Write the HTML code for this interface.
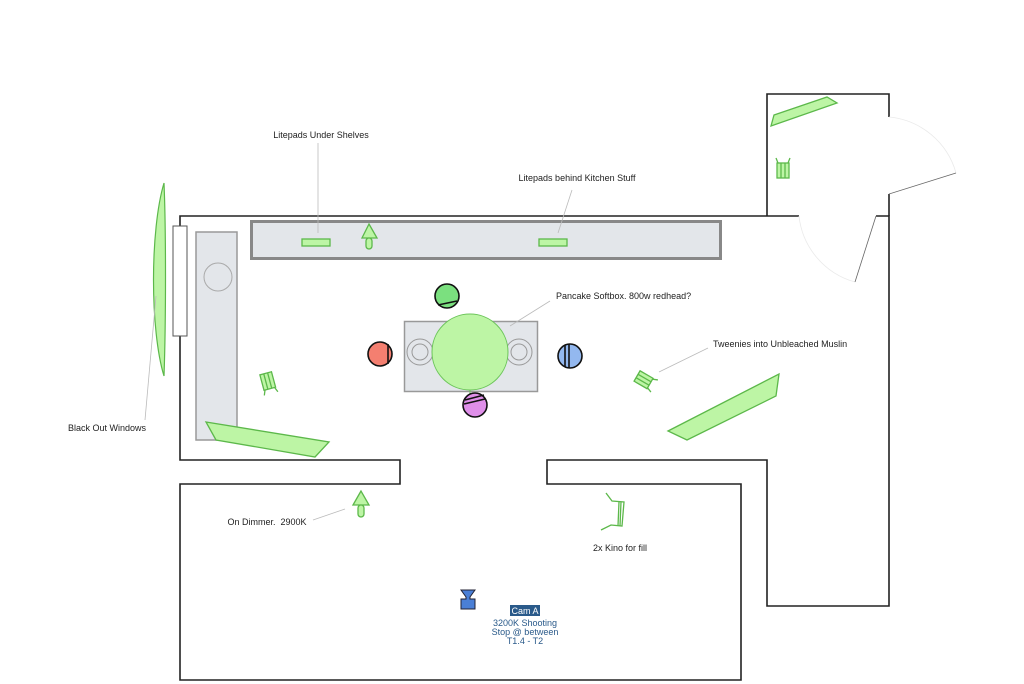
<!DOCTYPE html>
<html><head><meta charset="utf-8"><style>html,body{margin:0;padding:0;background:#fff}svg{display:block}text{font-family:"Liberation Sans",sans-serif;font-size:9px;fill:#222}</style></head><body>
<svg width="1024" height="684" viewBox="0 0 1024 684" xmlns="http://www.w3.org/2000/svg">
<g fill="none" stroke="#222" stroke-width="1.6">
<polyline points="180,226 180,216 799,216"/>
<polyline points="876,216 889,216 889,606 767,606 767,460 547,460 547,484 741,484 741,680 180,680 180,484 400,484 400,460 180,460 180,336"/>
<polyline points="767,216 767,94 889,94 889,117"/>
<line x1="889" y1="194" x2="889" y2="216"/>
</g>
<g fill="none" stroke="#eaeaea" stroke-width="0.8">
<path d="M889,117 A77,77 0 0 1 956,173"/>
<path d="M799,216 A77,77 0 0 0 855,282"/>
</g>
<g stroke="#666" stroke-width="0.8"><line x1="889" y1="194" x2="956" y2="173"/><line x1="876" y1="216" x2="855" y2="282"/></g>
<rect x="173" y="226" width="14" height="110" fill="#fff" stroke="#555" stroke-width="1"/>
<rect x="251.5" y="221.5" width="469" height="37" fill="#e3e6ea" stroke="#888" stroke-width="3"/>
<rect x="196" y="232" width="41" height="208" fill="#e3e6ea" stroke="#999" stroke-width="1.5"/>
<circle cx="218" cy="277" r="14" fill="none" stroke="#aaa" stroke-width="1"/>
<path d="M164,183 C150,230 150,330 164,376 C166,320 166,230 164,183Z" fill="#bdf5a5" stroke="#5cb84a" stroke-width="1.2"/>
<g fill="#bdf5a5" stroke="#5cb84a" stroke-width="1.3">
<polygon points="206,422 329,442 315,457 216,440"/>
<polygon points="668,431 779,374 776,396 687,440"/>
<polygon points="771,126 774,115 827,97 837,103"/>
<rect x="302" y="239" width="28" height="7"/>
<rect x="539" y="239" width="28" height="7"/>
<polygon points="369,224 362,238 377,238"/><rect x="366" y="238" width="6" height="11" rx="3"/>
<polygon points="361,491 353,505 369,505"/><rect x="358" y="505" width="6" height="12" rx="3"/>
<g transform="translate(268,382) rotate(-15)"><rect x="-6" y="-9" width="12" height="16"/><line x1="-2" y1="-9" x2="-2" y2="7"/><line x1="2" y1="-9" x2="2" y2="7"/><line x1="-5" y1="7" x2="-7" y2="12"/><line x1="5" y1="7" x2="7" y2="12"/></g>
<g transform="translate(783,170)"><rect x="-6" y="-7" width="12" height="15"/><line x1="-2" y1="-7" x2="-2" y2="8"/><line x1="2" y1="-7" x2="2" y2="8"/><line x1="-5" y1="-7" x2="-7" y2="-12"/><line x1="5" y1="-7" x2="7" y2="-12"/></g>
<g transform="translate(644,380) rotate(-60)"><rect x="-6" y="-8" width="12" height="15"/><line x1="-2" y1="-8" x2="-2" y2="7"/><line x1="2" y1="-8" x2="2" y2="7"/><line x1="-5" y1="7" x2="-7" y2="12"/><line x1="5" y1="7" x2="7" y2="12"/></g>
</g>
<g fill="none" stroke="#5cb84a" stroke-width="1.3"><polyline points="606,493 612,501 624,502 622,526 611,525 601,530"/><line x1="619" y1="502" x2="618" y2="526"/><line x1="621" y1="502" x2="620" y2="526"/></g>
<rect x="404.5" y="321.5" width="133" height="70" fill="#e3e6ea" stroke="#999" stroke-width="1.5"/>
<g fill="none" stroke="#999" stroke-width="1"><circle cx="420" cy="352" r="13"/><circle cx="420" cy="352" r="8"/><circle cx="519" cy="352" r="13"/><circle cx="519" cy="352" r="8"/></g>
<circle cx="470" cy="352" r="38" fill="#bdf5a5" stroke="#6cc55a" stroke-width="1"/>
<line x1="470" y1="390" x2="470" y2="406" stroke="#6cc55a"/>
<g stroke="#111" stroke-width="1.6">
<circle cx="447" cy="296" r="12" fill="#7be07f"/><line x1="438" y1="305" x2="457" y2="301"/>
<circle cx="380" cy="354" r="12" fill="#f47f70"/><line x1="388" y1="344" x2="388" y2="364"/>
<circle cx="570" cy="356" r="12" fill="#93b8ef"/><line x1="565" y1="345" x2="565" y2="367"/><line x1="569" y1="344" x2="569" y2="368"/>
<circle cx="475" cy="405" r="12" fill="#df8fe9"/><line x1="465" y1="400" x2="484" y2="395"/><line x1="464" y1="404" x2="485" y2="399"/>
</g>
<g stroke="#bbb" stroke-width="0.8">
<line x1="318" y1="143" x2="318" y2="233"/><line x1="572" y1="190" x2="558" y2="233"/><line x1="550" y1="301" x2="510" y2="326"/><line x1="708" y1="348" x2="659" y2="372"/><line x1="145" y1="420" x2="156" y2="296"/><line x1="313" y1="520" x2="345" y2="509"/>
</g>
<text x="321" y="138" text-anchor="middle">Litepads Under Shelves</text>
<text x="577" y="181" text-anchor="middle">Litepads behind Kitchen Stuff</text>
<text x="556" y="299">Pancake Softbox. 800w redhead?</text>
<text x="713" y="347">Tweenies into Unbleached Muslin</text>
<text x="107" y="431" text-anchor="middle">Black Out Windows</text>
<text x="267" y="525" text-anchor="middle">On Dimmer.&#160; 2900K</text>
<text x="620" y="551" text-anchor="middle">2x Kino for fill</text>
<path d="M461,590 L475,590 L470,597 L470,599 L475,599 L475,609 L461,609 L461,599 L466,599 L466,597Z" fill="#4a7fd6" stroke="#223" stroke-width="1"/>
<rect x="510" y="605" width="30" height="11" fill="#2a5a8a"/>
<text x="525" y="614" text-anchor="middle" style="fill:#fff">Cam A</text>
<text x="525" y="626" text-anchor="middle" style="fill:#2a5a8a">3200K Shooting</text>
<text x="525" y="635" text-anchor="middle" style="fill:#2a5a8a">Stop @ between</text>
<text x="525" y="644" text-anchor="middle" style="fill:#2a5a8a">T1.4 - T2</text>
</svg>
</body></html>
